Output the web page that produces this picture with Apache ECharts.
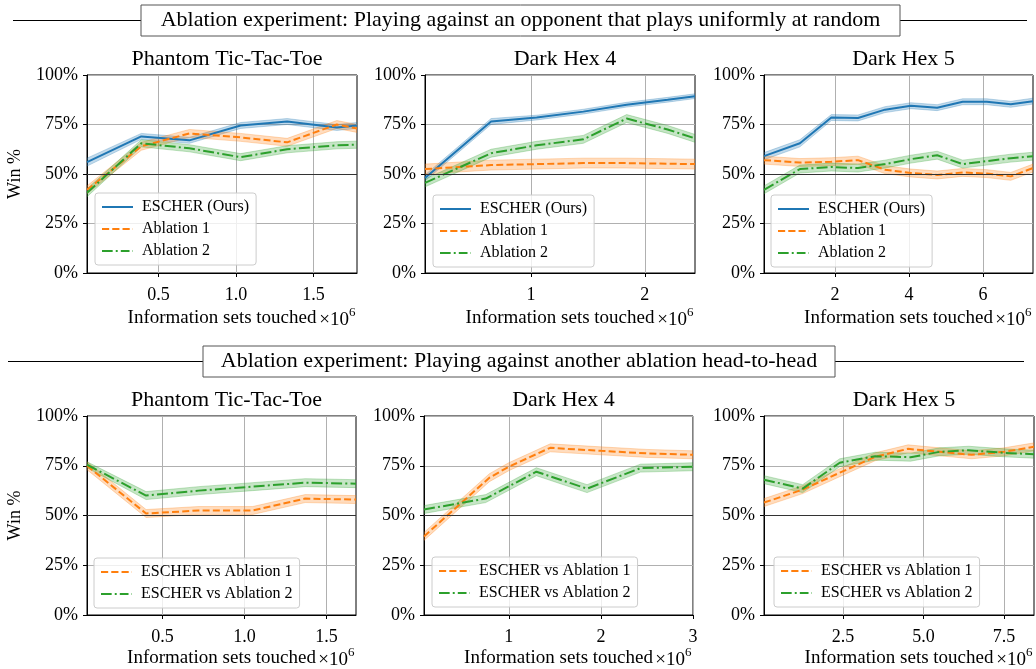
<!DOCTYPE html>
<html><head><meta charset="utf-8">
<script src="https://cdn.jsdelivr.net/npm/echarts@6/dist/echarts.min.js"></script>
<style>html,body{margin:0;padding:0;background:#fff}#c{width:1036px;height:669px}</style>
</head><body><div id="c"></div>
<script>
// ---------------- data ----------------
const headerTop = 'Ablation experiment: Playing against an opponent that plays uniformly at random';
const headerBottom = 'Ablation experiment: Playing against another ablation head-to-head';
const panelTitles = ['Phantom Tic-Tac-Toe', 'Dark Hex 4', 'Dark Hex 5', 'Phantom Tic-Tac-Toe', 'Dark Hex 4', 'Dark Hex 5'];
const topLegend = ['ESCHER (Ours)', 'Ablation 1', 'Ablation 2'];
const bottomLegend = ['ESCHER vs Ablation 1', 'ESCHER vs Ablation 2'];
const yTicks = [0, 25, 50, 75, 100];
const xTicks = [[0.5, 1.0, 1.5], [1, 2], [2, 4, 6], [0.5, 1.0, 1.5], [1, 2, 3], [2.5, 5.0, 7.5]];
const xTickDecimals = [1, 0, 0, 1, 0, 1];
const xRanges = [[0.04, 1.78], [0.07, 2.44], [0.08, 7.35], [0.04, 1.68], [0.08, 3.0], [0.05, 8.43]];
const xName = 'Information sets touched';
const yName = 'Win %';

// Panel 1: Phantom Tic-Tac-Toe vs random
const p1X = [0.04, 0.39, 0.70, 1.03, 1.33, 1.65, 1.78];
const p1Escher = [56, 69, 67, 74.5, 76.5, 73.5, 74.5];
const p1EscherCI = [2, 1.5, 1.5, 1.5, 1.5, 1.5, 1.5];
const p1Abl1 = [42, 64, 70.5, 68.5, 66, 75, 73];
const p1Abl1CI = [2, 2, 2, 2, 2, 2, 2];
const p1Abl2 = [40.5, 65.5, 63, 58.5, 62.5, 64.5, 64.8];
const p1Abl2CI = [2, 1.8, 1.8, 1.8, 1.8, 1.8, 1.8];

// Panel 2: Dark Hex 4 vs random
const p2X = [0.07, 0.65, 1.05, 1.46, 1.84, 2.2, 2.44];
const p2Escher = [48, 76.5, 78.5, 81.5, 85, 87.5, 89.3];
const p2EscherCI = [1.5, 1.5, 1.2, 1.2, 1.2, 1.2, 1.2];
const p2Abl1 = [52.5, 54.5, 55, 55.5, 55.5, 55.2, 55];
const p2Abl1CI = [2.5, 2.5, 2.5, 2.5, 2.5, 2.5, 2.5];
const p2Abl2 = [45.5, 60.5, 64.5, 67.5, 78, 72.5, 68];
const p2Abl2CI = [2, 2, 2, 2, 2, 2, 2];

// Panel 3: Dark Hex 5 vs random
const p3X = [0.08, 1.05, 1.9, 2.62, 3.35, 4.05, 4.76, 5.45, 6.1, 6.75, 7.35];
const p3Escher = [59, 65.5, 78.5, 78.3, 82.5, 84.5, 83.5, 86.5, 86.5, 85.2, 86.8];
const p3EscherCI = [1.8, 1.8, 1.5, 1.5, 1.5, 1.5, 1.5, 1.5, 1.5, 1.5, 1.5];
const p3Abl1 = [57, 55.8, 56.2, 57, 52.2, 50.5, 49.5, 50.8, 50.2, 48.8, 53];
const p3Abl1CI = [2, 2, 2, 2, 2, 2, 2, 2, 2, 2, 2];
const p3Abl2 = [42, 52.5, 53.5, 53, 55, 57.5, 59.5, 55, 56.5, 58, 59];
const p3Abl2CI = [2, 2, 2, 2, 2, 2, 2, 2, 2, 2, 2];

// Panel 4: Phantom Tic-Tac-Toe head-to-head
const p4X = [0.04, 0.40, 0.72, 1.05, 1.37, 1.68];
const p4VsAbl1 = [75, 51, 52.5, 52.5, 58.5, 58];
const p4VsAbl1CI = [2, 2, 2, 2, 2, 2];
const p4VsAbl2 = [75.5, 60, 62.5, 64.5, 66.5, 66];
const p4VsAbl2CI = [1.5, 2, 2, 2, 2, 2];

// Panel 5: Dark Hex 4 head-to-head
const p5XAbl1 = [0.08, 0.79, 1.0, 1.45, 2.0, 2.5, 3.0];
const p5VsAbl1 = [39.5, 69, 74.5, 84, 82.5, 81.2, 80.5];
const p5VsAbl1CI = [2, 2, 2, 2, 2, 2, 2];
const p5XAbl2 = [0.08, 0.75, 1.3, 1.85, 2.43, 3.0];
const p5VsAbl2 = [53, 58.5, 72, 63.5, 73.8, 74.5];
const p5VsAbl2CI = [2, 2, 2, 2, 2, 2];

// Panel 6: Dark Hex 5 head-to-head
const p6XAbl1 = [0.05, 1.25, 2.4, 3.5, 4.52, 5.5, 6.5, 7.5, 8.43];
const p6VsAbl1 = [56.5, 63, 71.5, 79.5, 83.5, 82, 80.5, 82, 84.5];
const p6VsAbl1CI = [2, 2, 2, 2, 2, 2, 2, 2, 2];
const p6XAbl2 = [0.05, 1.25, 2.4, 3.5, 4.6, 5.5, 6.4, 7.5, 8.43];
const p6VsAbl2 = [68, 63.5, 76.5, 79.8, 79.3, 82, 82.8, 81.5, 80.8];
const p6VsAbl2CI = [2, 2, 2, 2, 2, 2, 2, 2, 2];

// ---------------- style ----------------
const FONT = 'Liberation Serif';
const BLUE = '#1f77b4', ORANGE = '#ff7f0e', GREEN = '#2ca02c';
const DASH = [7, 3.2];
const DASHDOT = [11, 3.2, 2, 3.2];
const ICON_SOLID = 'path://M0,0h31v2h-31z';
const ICON_DASH = 'path://M0,0h7.4v2h-7.4z M10.6,0h7.4v2h-7.4z M21.2,0h7.4v2h-7.4z M31.8,0h0.2v2h-0.2z';
const ICON_DASHDOT = 'path://M0,0h11v2h-11z M14.2,0h2v2h-2z M19.4,0h9v2h-9z M31.6,0h0.4v2h-0.4z';

const grids = [
  {left: 87, top: 75, width: 270, height: 198},
  {left: 425, top: 75, width: 270, height: 198},
  {left: 764, top: 75, width: 269, height: 198},
  {left: 87, top: 416, width: 269, height: 199},
  {left: 424, top: 416, width: 269, height: 199},
  {left: 764, top: 416, width: 270, height: 199}
];
const legendPos = [
  {left: 95, top: 193}, {left: 433, top: 195}, {left: 771, top: 195},
  {left: 94, top: 558}, {left: 432, top: 557}, {left: 774, top: 557}
];

function rgba(hex, a) {
  const n = parseInt(hex.slice(1), 16);
  return 'rgba(' + (n >> 16 & 255) + ',' + (n >> 8 & 255) + ',' + (n & 255) + ',' + a + ')';
}

const panels = [
  [{name: topLegend[0], x: p1X, y: p1Escher, ci: p1EscherCI, color: BLUE, type: 'solid'},
   {name: topLegend[1], x: p1X, y: p1Abl1, ci: p1Abl1CI, color: ORANGE, type: DASH},
   {name: topLegend[2], x: p1X, y: p1Abl2, ci: p1Abl2CI, color: GREEN, type: DASHDOT}],
  [{name: topLegend[0], x: p2X, y: p2Escher, ci: p2EscherCI, color: BLUE, type: 'solid'},
   {name: topLegend[1], x: p2X, y: p2Abl1, ci: p2Abl1CI, color: ORANGE, type: DASH},
   {name: topLegend[2], x: p2X, y: p2Abl2, ci: p2Abl2CI, color: GREEN, type: DASHDOT}],
  [{name: topLegend[0], x: p3X, y: p3Escher, ci: p3EscherCI, color: BLUE, type: 'solid'},
   {name: topLegend[1], x: p3X, y: p3Abl1, ci: p3Abl1CI, color: ORANGE, type: DASH},
   {name: topLegend[2], x: p3X, y: p3Abl2, ci: p3Abl2CI, color: GREEN, type: DASHDOT}],
  [{name: bottomLegend[0], x: p4X, y: p4VsAbl1, ci: p4VsAbl1CI, color: ORANGE, type: DASH},
   {name: bottomLegend[1], x: p4X, y: p4VsAbl2, ci: p4VsAbl2CI, color: GREEN, type: DASHDOT}],
  [{name: bottomLegend[0], x: p5XAbl1, y: p5VsAbl1, ci: p5VsAbl1CI, color: ORANGE, type: DASH},
   {name: bottomLegend[1], x: p5XAbl2, y: p5VsAbl2, ci: p5VsAbl2CI, color: GREEN, type: DASHDOT}],
  [{name: bottomLegend[0], x: p6XAbl1, y: p6VsAbl1, ci: p6VsAbl1CI, color: ORANGE, type: DASH},
   {name: bottomLegend[1], x: p6XAbl2, y: p6VsAbl2, ci: p6VsAbl2CI, color: GREEN, type: DASHDOT}]
];

const iconFor = {};
iconFor[topLegend[0]] = ICON_SOLID;
iconFor[topLegend[1]] = ICON_DASH;
iconFor[topLegend[2]] = ICON_DASHDOT;
iconFor[bottomLegend[0]] = ICON_DASH;
iconFor[bottomLegend[1]] = ICON_DASHDOT;

const gridOpt = [], xAxes = [], yAxes = [], series = [], titles = [], legends = [], graphics = [];

panels.forEach((panel, i) => {
  const g = grids[i];
  gridOpt.push(Object.assign({show: true, borderColor: '#000', borderWidth: 1, backgroundColor: 'transparent', containLabel: false}, g));
  const dec = xTickDecimals[i];
  xAxes.push({
    type: 'value', gridIndex: i, min: xRanges[i][0], max: xRanges[i][1],
    name: xName, nameLocation: 'middle', nameGap: i < 3 ? 36 : 34,
    nameTextStyle: {fontFamily: FONT, fontSize: 19, color: '#000'},
    axisLine: {show: true, onZero: false, lineStyle: {color: '#000', width: 1}},
    axisTick: {show: true, customValues: xTicks[i], length: 4, lineStyle: {color: '#000'}},
    axisLabel: {customValues: xTicks[i], formatter: v => Number(v).toFixed(dec), fontFamily: FONT, fontSize: 18, color: '#000', margin: 13},
    splitLine: {show: true, lineStyle: {color: '#b0b0b0', width: 1}}
  });
  yAxes.push({
    type: 'value', gridIndex: i, min: 0, max: 100, interval: 25,
    axisLine: {show: true, lineStyle: {color: '#000', width: 1}},
    axisTick: {show: true, length: 4, lineStyle: {color: '#000'}},
    axisLabel: {formatter: '{value}%', fontFamily: FONT, fontSize: 18, color: '#000', margin: 9},
    splitLine: {show: true, lineStyle: {color: '#b0b0b0', width: 1}}
  });
  titles.push({
    text: panelTitles[i], left: g.left + g.width / 2, top: g.top - 32, textAlign: 'center',
    textStyle: {fontFamily: FONT, fontSize: 22, fontWeight: 'normal', color: '#000'}
  });
  legends.push({
    orient: 'vertical', left: legendPos[i].left, top: legendPos[i].top,
    data: panel.map(s => ({name: s.name, icon: iconFor[s.name]})),
    itemWidth: 31, itemHeight: 14, itemGap: 6,
    padding: [6, 7, 6, 7],
    backgroundColor: 'rgba(255,255,255,0.8)', borderColor: '#cccccc', borderWidth: 1, borderRadius: 3,
    itemStyle: {borderWidth: 0},
    textStyle: {fontFamily: FONT, fontSize: 16, color: '#000', padding: [0, 0, 0, 4]},
    selectedMode: false
  });
  panel.forEach((s, k) => {
    const xs = s.x, ys = s.y, ci = s.ci, col = s.color;
    series.push({
      type: 'custom', name: s.name + ' band', xAxisIndex: i, yAxisIndex: i, clip: true, silent: true, z: 1,
      data: [[xs[0], ys[0]]],
      renderItem: (params, api) => {
        const up = xs.map((v, j) => api.coord([v, ys[j] + ci[j]]));
        const lo = xs.map((v, j) => api.coord([v, ys[j] - ci[j]])).reverse();
        return {type: 'polygon', shape: {points: up.concat(lo)},
          style: {fill: rgba(col, 0.27), stroke: rgba(col, 0.35), lineWidth: 0.8}};
      }
    });
    const line = {
      type: 'line', name: s.name, xAxisIndex: i, yAxisIndex: i, z: 3,
      data: xs.map((v, j) => [v, ys[j]]),
      symbol: 'none', clip: true, animation: false,
      color: col,
      lineStyle: {color: col, width: 2, type: s.type}
    };
    if (k === 0) {
      line.markLine = {silent: true, symbol: 'none', animation: false, label: {show: false},
        lineStyle: {color: '#333', width: 1, type: 'solid'}, data: [{yAxis: 50}]};
    }
    series.push(line);
  });
  // x10^6 offset text
  const yRow = g.top + g.height + (i < 3 ? 47 : 45);
  graphics.push({type: 'text', x: g.left + g.width - 8, y: yRow, style: {text: '×10', font: '19px ' + FONT, fill: '#000', textAlign: 'right', textVerticalAlign: 'middle'}});
  graphics.push({type: 'text', x: g.left + g.width - 8, y: yRow - 7, style: {text: '6', font: '13px ' + FONT, fill: '#000', textAlign: 'left', textVerticalAlign: 'middle'}});
});

// y-axis labels
[0, 3].forEach(i => {
  const g = grids[i];
  graphics.push({type: 'text', x: 15, y: g.top + g.height / 2, rotation: Math.PI / 2,
    style: {text: yName, font: '18px ' + FONT, fill: '#000', textAlign: 'center', textVerticalAlign: 'middle'}});
});

// section headers
function header(text, y, boxL, boxR, lineL, lineR) {
  graphics.push({type: 'line', shape: {x1: lineL, y1: y, x2: boxL, y2: y}, style: {stroke: '#000', lineWidth: 1}});
  graphics.push({type: 'line', shape: {x1: boxR, y1: y, x2: lineR, y2: y}, style: {stroke: '#000', lineWidth: 1}});
  graphics.push({type: 'rect', shape: {x: boxL, y: y - 15.5, width: boxR - boxL, height: 31}, style: {fill: '#fff', stroke: '#555', lineWidth: 1}});
  graphics.push({type: 'text', x: (boxL + boxR) / 2, y: y, style: {text: text, font: '22px ' + FONT, fill: '#000', textAlign: 'center', textVerticalAlign: 'middle'}});
}
header(headerTop, 20.5, 141, 900, 13, 1027);
header(headerBottom, 361.5, 203, 835, 8, 1024);

const chart = echarts.init(document.getElementById('c'), null, {renderer: 'canvas'});
chart.setOption({
  animation: false,
  backgroundColor: '#fff',
  title: titles,
  legend: legends,
  grid: gridOpt,
  xAxis: xAxes,
  yAxis: yAxes,
  series: series,
  graphic: graphics
});
</script></body></html>
